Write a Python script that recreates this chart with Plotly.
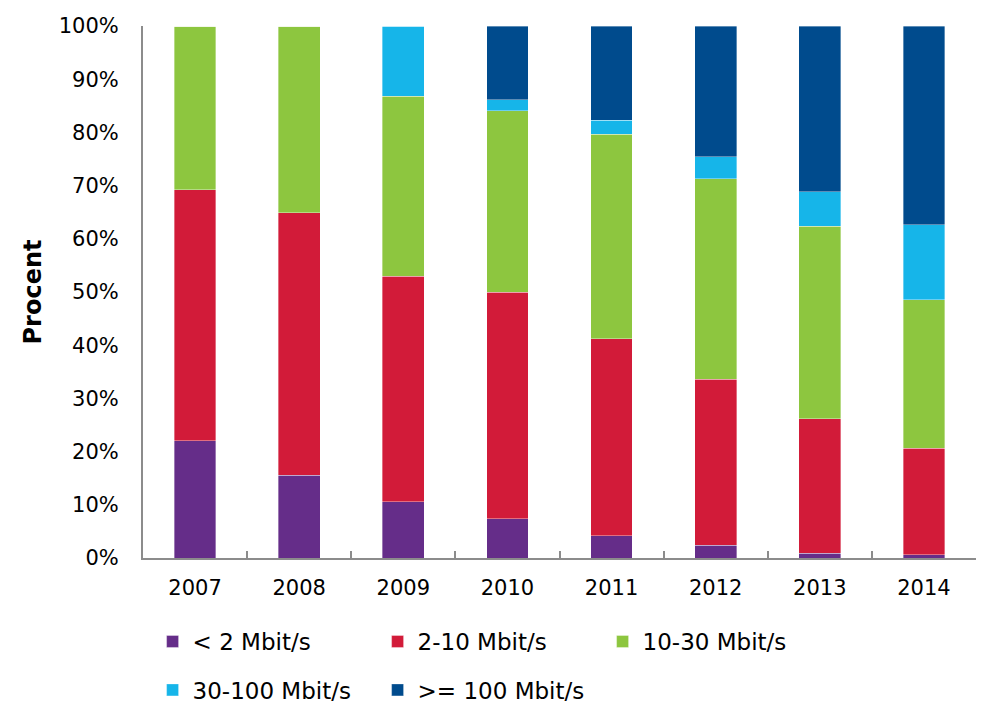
import plotly.graph_objects as go

years = ["2007", "2008", "2009", "2010", "2011", "2012", "2013", "2014"]
s_lt2 = [22.0, 15.6, 10.6, 7.4, 4.2, 2.4, 0.9, 0.6]
s_2_10 = [47.2, 49.3, 42.4, 42.6, 37.0, 31.2, 25.3, 20.0]
s_10_30 = [30.8, 35.1, 33.8, 34.1, 38.5, 37.7, 36.2, 27.9]
s_30_100 = [0, 0, 13.2, 2.0, 2.6, 4.1, 6.4, 14.1]
s_ge100 = [0, 0, 0, 13.9, 17.7, 24.6, 31.2, 37.4]

names = ["< 2 Mbit/s", "2-10 Mbit/s", "10-30 Mbit/s", "30-100 Mbit/s", ">= 100 Mbit/s"]
colors = ["#652d89", "#d21b39", "#8dc63f", "#16b5e9", "#004b8d"]
series = [s_lt2, s_2_10, s_10_30, s_30_100, s_ge100]
legends = ["legend", "legend", "legend", "legend2", "legend2"]

y_tickvals = [0, 10, 20, 30, 40, 50, 60, 70, 80, 90, 100]
y_ticktext = ["0%", "10%", "20%", "30%", "40%", "50%", "60%", "70%", "80%", "90%", "100%"]

FONT = "Verdana, DejaVu Sans, sans-serif"

fig = go.Figure()
for name, col, vals, lg in zip(names, colors, series, legends):
    fig.add_trace(go.Bar(
        x=years, y=vals, name=name, legend=lg,
        marker=dict(color=col, line=dict(color="rgba(255,255,255,0.6)", width=0.6)),
    ))

fig.update_layout(
    barmode="stack",
    bargap=0.6,
    width=989, height=708,
    margin=dict(l=135, r=21, t=18, b=158, autoexpand=False),
    paper_bgcolor="white", plot_bgcolor="white",
    font=dict(family=FONT, size=21, color="black"),
    xaxis=dict(
        type="category", showline=True, linecolor="#8c8c8c", linewidth=2,
        ticks="inside", tickson="boundaries", ticklen=7, tickwidth=2, tickcolor="#8c8c8c",
        showgrid=False, ticklabelstandoff=10, automargin=False,
        tickfont=dict(family=FONT, size=21),
    ),
    yaxis=dict(
        range=[0, 100], tickmode="array", tickvals=y_tickvals, ticktext=y_ticktext,
        showline=True, linecolor="#8c8c8c", linewidth=2,
        showgrid=False, ticks="", ticklabelstandoff=18, zeroline=False, automargin=False,
        tickfont=dict(family=FONT, size=21),
        title=dict(text="<b>Procent</b>", font=dict(family=FONT, size=24), standoff=10),
    ),
    legend=dict(
        orientation="h", x=0.0115, xanchor="left", y=-0.157, yanchor="middle",
        entrywidth=180, entrywidthmode="pixels", font=dict(family=FONT, size=23),
        traceorder="normal", bgcolor="rgba(0,0,0,0)",
    ),
    legend2=dict(
        orientation="h", x=0.0115, xanchor="left", y=-0.248, yanchor="middle",
        entrywidth=180, entrywidthmode="pixels", font=dict(family=FONT, size=23),
        traceorder="normal", bgcolor="rgba(0,0,0,0)",
    ),
)

fig.write_html("out.html")
